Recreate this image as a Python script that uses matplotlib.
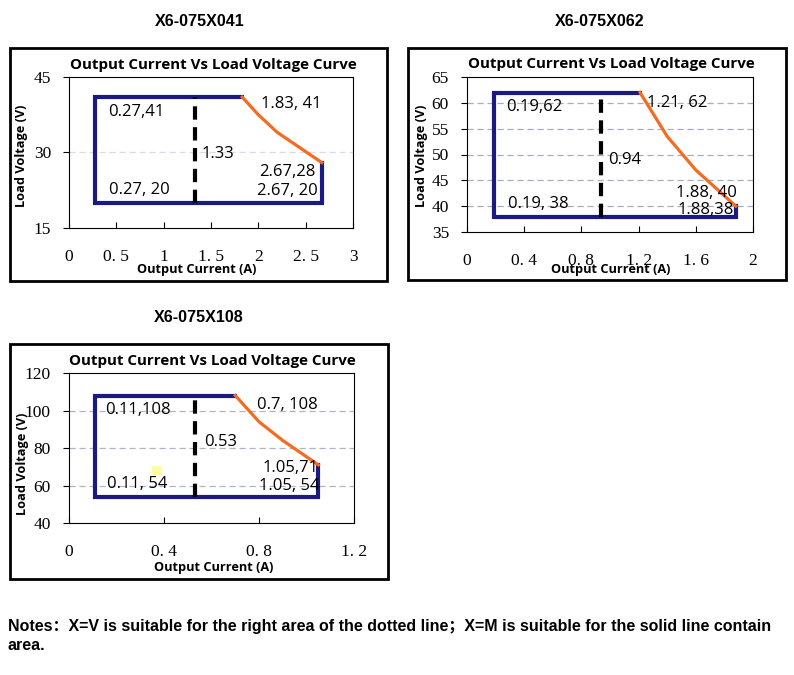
import matplotlib
matplotlib.use('Agg')
import matplotlib.pyplot as plt
from matplotlib.patches import Rectangle

W, H = 794, 675

# ---- data ----
models = ['X6-075X041', 'X6-075X062', 'X6-075X108']

# X6-075X041
c1_box_x = [1.83, 0.27, 0.27, 2.67, 2.67]
c1_box_y = [41, 41, 20, 20, 28]
c1_curve_x = [1.83, 2.0, 2.2, 2.67]
c1_curve_y = [41, 37.5, 34, 28]
c1_split = 1.33
c1_xticks = [0, 0.5, 1, 1.5, 2, 2.5, 3]
c1_xlabels = ['0', '0. 5', '1', '1. 5', '2', '2. 5', '3']
c1_yticks = [15, 30, 45]

# X6-075X062
c2_box_x = [1.21, 0.19, 0.19, 1.88, 1.88]
c2_box_y = [62, 62, 38, 38, 40]
c2_curve_x = [1.21, 1.4, 1.6, 1.88]
c2_curve_y = [62, 53.5, 47, 40]
c2_split = 0.94
c2_xticks = [0, 0.4, 0.8, 1.2, 1.6, 2]
c2_xlabels = ['0', '0. 4', '0. 8', '1. 2', '1. 6', '2']
c2_yticks = [35, 40, 45, 50, 55, 60, 65]

# X6-075X108
c3_box_x = [0.7, 0.11, 0.11, 1.05, 1.05]
c3_box_y = [108, 108, 54, 54, 71]
c3_curve_x = [0.7, 0.8, 0.9, 1.05]
c3_curve_y = [108, 94, 84, 71]
c3_split = 0.53
c3_xticks = [0, 0.4, 0.8, 1.2]
c3_xlabels = ['0', '0. 4', '0. 8', '1. 2']
c3_yticks = [40, 60, 80, 100, 120]

# point labels: text, x, y, horizontal alignment
c1_notes = [('0.27,41', 0.41, 38.1, 'left'), ('1.83, 41', 2.03, 39.7, 'left'),
            ('1.33', 1.40, 29.8, 'left'), ('2.67,28', 2.60, 26.2, 'right'),
            ('2.67, 20', 2.63, 22.3, 'right'), ('0.27, 20', 0.42, 22.5, 'left')]
c2_notes = [('0.19,62', 0.276, 59.2, 'left'), ('1.21, 62', 1.257, 60.0, 'left'),
            ('0.94', 0.984, 48.9, 'left'), ('1.88, 40', 1.888, 42.6, 'right'),
            ('1.88,38', 1.864, 39.2, 'right'), ('0.19, 38', 0.287, 40.5, 'left')]
c3_notes = [('0.11,108', 0.15, 100.4, 'left'), ('0.7, 108', 0.79, 102.7, 'left'),
            ('0.53', 0.568, 83.4, 'left'), ('1.05,71', 1.05, 69.1, 'right'),
            ('1.05, 54', 1.057, 59.8, 'right'), ('0.11, 54', 0.16, 60.7, 'left')]

NAVY = '#1a1a80'
ORANGE = '#f36c21'
LABEL_FONT = 'Open Sans'
TICK_FONT = 'Liberation Serif'

fig = plt.figure(figsize=(W / 100, H / 100), dpi=100)


def px(x, y):
    return x / W, 1 - y / H


def add_ax(left, top, right, bottom):
    return fig.add_axes([left / W, 1 - bottom / H, (right - left) / W, (bottom - top) / H])


def frame(left, top, right, bottom):
    fig.patches.append(Rectangle(px(left, bottom), (right - left) / W, (bottom - top) / H,
                                 transform=fig.transFigure, fill=False,
                                 edgecolor='black', linewidth=2.0))


def draw_chart(ax, box_x, box_y, curve_x, curve_y, split, xticks, xlabels, yticks,
               notes, grid_color):
    ax.set_xlim(xticks[0], xticks[-1])
    ax.set_ylim(yticks[0], yticks[-1])
    for yv in yticks[1:-1]:
        ax.axhline(yv, color=grid_color, lw=0.9, ls=(0, (5, 3)), zorder=0)
    ax.plot(box_x, box_y, color=NAVY, lw=3.0, solid_joinstyle='miter', zorder=3)
    ax.plot(curve_x, curve_y, color=ORANGE, lw=2.3, zorder=3)
    ax.plot([split, split], [box_y[2], box_y[0]], color='black', lw=3.0,
            dashes=(3.2, 1.8), zorder=3)
    for txt, tx, ty, ha in notes:
        ax.text(tx, ty, txt, ha=ha, va='center', fontsize=12, family=LABEL_FONT, zorder=4)
    ax.set_xticks(xticks)
    ax.set_xticklabels(xlabels, family=TICK_FONT, fontsize=12.5)
    ax.set_yticks(yticks)
    ax.set_yticklabels([str(v) for v in yticks], family=TICK_FONT, fontsize=12.5)
    ax.tick_params(axis='x', direction='in', length=4, pad=15, width=0.8)
    ax.tick_params(axis='y', direction='out', length=4, pad=9, width=0.8)
    for sp in ax.spines.values():
        sp.set_linewidth(0.8)


# outer frames
frame(10, 48, 387, 281)
frame(408, 48, 786, 280)
frame(10, 344, 388, 579)

ax1 = add_ax(69, 77, 353, 228)
draw_chart(ax1, c1_box_x, c1_box_y, c1_curve_x, c1_curve_y, c1_split,
           c1_xticks, c1_xlabels, c1_yticks, c1_notes, '#d5dcec')
ax2 = add_ax(467, 77, 753, 232)
draw_chart(ax2, c2_box_x, c2_box_y, c2_curve_x, c2_curve_y, c2_split,
           c2_xticks, c2_xlabels, c2_yticks, c2_notes, '#a8adc4')
ax3 = add_ax(69, 373, 354, 523)
draw_chart(ax3, c3_box_x, c3_box_y, c3_curve_x, c3_curve_y, c3_split,
           c3_xticks, c3_xlabels, c3_yticks, c3_notes, '#b0b4c8')
# small yellow patch in the third chart
ax3.scatter([0.368], [68.2], marker='s', s=40, color='#ffff99', zorder=2)

# chart titles and axis titles: title centre, title y, xlabel centre, xlabel y, ylabel x, ylabel y
for cx, ty, xx, xy, ylx, yly in [(213, 65, 197, 270, 22, 156),
                                 (611, 64, 611, 270, 422, 156),
                                 (212, 361, 214, 568, 23, 464)]:
    fig.text(*px(cx, ty), 'Output Current Vs Load Voltage Curve', ha='center', va='center',
             fontsize=10.9, fontweight='bold', family=LABEL_FONT)
    fig.text(*px(xx, xy), 'Output Current (A)', ha='center', va='center',
             fontsize=9.2, fontweight='bold', family=LABEL_FONT)
    fig.text(*px(ylx, yly), 'Load Voltage (V)', ha='center', va='center', rotation=90,
             fontsize=9.2, fontweight='bold', family=LABEL_FONT)

# model headers
for (hx, hy), name in zip([(200, 21), (600, 21), (199, 317)], models):
    fig.text(*px(hx, hy), name, ha='center', va='center', fontsize=11.6,
             fontweight='bold', family='Liberation Sans')

notes_font = ['Liberation Sans', 'Noto Sans CJK SC']
fig.text(*px(8, 626), 'Notes：X=V is suitable for the right area of the dotted line；'
         'X=M is suitable for the solid line contain', ha='left', va='center',
         fontsize=11.5, fontweight='bold', family=notes_font)
fig.text(*px(8, 645), 'area.', ha='left', va='center', fontsize=11.5, fontweight='bold',
         family=notes_font)

fig.savefig('out.png', dpi=100)
